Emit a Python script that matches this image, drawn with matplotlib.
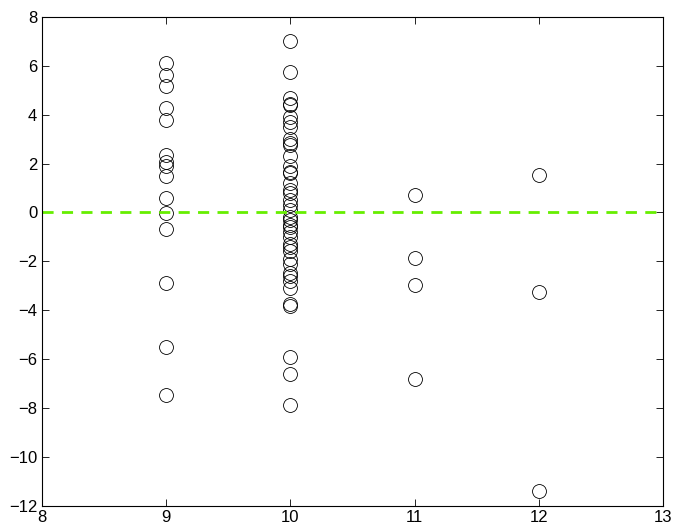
import matplotlib
matplotlib.use("Agg")
import matplotlib.pyplot as plt

plt.rcParams['font.family'] = ['Liberation Sans', 'DejaVu Sans']

x9 = [6.12, 5.64, 5.19, 4.28, 3.80, 2.36, 2.05, 1.91, 1.50, 0.61, -0.02, -0.68, -2.87, -5.49, -7.47]
x10 = [7.01, 5.74, 4.70, 4.45, 4.40, 3.90, 3.70, 3.50, 3.00, 2.85, 2.75, 2.30, 1.90, 1.65, 1.60,
       1.20, 0.90, 0.80, 0.50, 0.30, 0.10, -0.20, -0.30, -0.50, -0.60, -0.80, -1.00, -1.30,
       -1.40, -1.60, -1.90, -2.10, -2.50, -2.60, -2.80, -3.10, -3.75, -3.82, -5.90, -6.62, -7.88]
x11 = [0.73, -1.87, -2.99, -6.83]
x12 = [1.55, -3.24, -11.39]

groups = [9, 10, 11, 12]
values = [x9, x10, x11, x12]

fig = plt.figure(figsize=(6.81, 5.32), dpi=100)
ax = fig.add_axes([0.0617, 0.0498, 0.9119, 0.9182])

for g, vals in zip(groups, values):
    ax.plot([g] * len(vals), vals, 'o', markersize=10, markerfacecolor='none',
            markeredgecolor='black', markeredgewidth=0.6, linestyle='none')

ax.axhline(0, color='#66ee00', linestyle='--', linewidth=2, dashes=(4, 3))

ax.set_xlim(8, 13)
ax.set_ylim(-12, 8)
ax.set_xticks([8, 9, 10, 11, 12, 13])
ax.set_yticks(list(range(-12, 9, 2)))
ax.tick_params(direction='in', top=True, right=True, labelsize=12, length=5, width=0.6)
for s in ax.spines.values():
    s.set_linewidth(0.8)

fig.savefig("out.png", dpi=100)
